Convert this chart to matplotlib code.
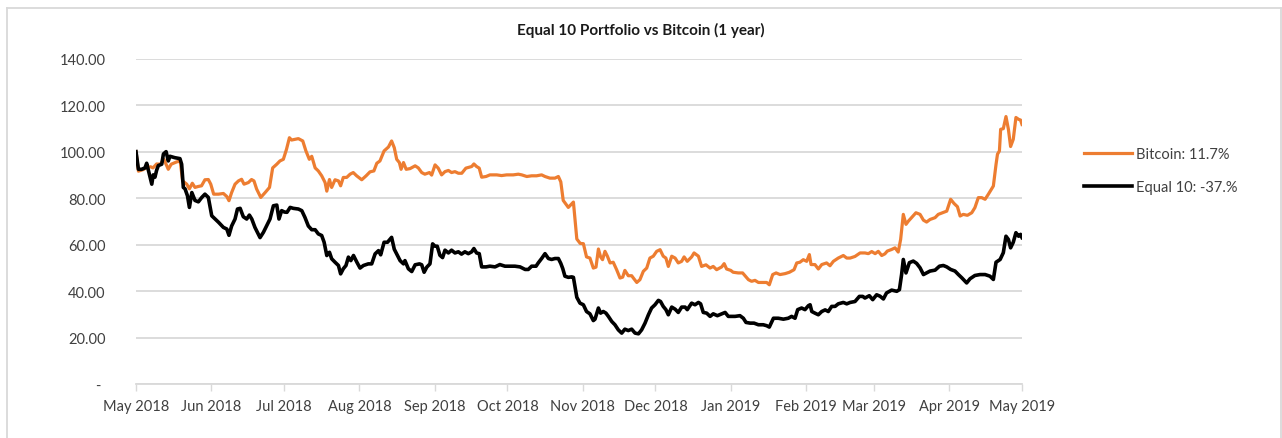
import numpy as np
import pandas as pd
import matplotlib
matplotlib.use('Agg')
import matplotlib.pyplot as plt
import matplotlib.dates as mdates
from matplotlib.ticker import FuncFormatter
from matplotlib.lines import Line2D

plt.rcParams['font.family'] = ['Lato', 'DejaVu Sans']

start = pd.Timestamp('2018-05-01')

# Bitcoin (indexed to 100), days since 1 May 2018
btc_day = [0, 1, 3, 4, 6, 7, 8.5, 10, 11.5, 13.3, 14.5, 16.8, 18.2, 19.2, 20.9, 22, 23.2, 24.3,
           25.6, 27, 28.4, 29.8, 30.8, 32, 34, 36, 37.4, 38.3, 39.4, 40.8, 42.2, 43.5, 44.5,
           46.3, 47.6, 48.6, 49.7, 51.4, 53.2, 55, 56.3, 58, 59.3, 60.7, 62, 63.2, 64.1, 65.5,
           66.9, 68.7, 70, 71.4, 72.4, 73.8, 75.1, 76.5, 77.9, 78.6, 79.7, 80.6, 82, 83.4, 84.3,
           85.4, 86.8, 88.2, 89.5, 90.9, 93, 94.8, 96.4, 98, 99.2, 100.5, 102.2, 104, 105.3,
           106.4, 107.4, 108.5, 109.2, 110.2, 111.3, 112.9, 115, 116.3, 117.7, 119, 120.9, 121.8,
           123.2, 124.5, 125.9, 127.3, 128.7, 130, 131.4, 132.8, 134.2, 135.9, 137.3, 138.3,
           139.2, 140.3, 141.4, 142.4, 144.2, 145.8, 148.6, 150.6, 152.7, 155.4, 157.5, 158.9,
           161, 163, 165, 167.1, 168.5, 170.5, 172.6, 174, 175, 176, 178.1, 180.2, 181.6, 183,
           184.3, 185.6, 187, 188.4, 189.5, 190.5, 191.4, 192.2, 193.2, 194.2, 195.3, 196.6, 198,
           199.4, 200.5, 201.4, 202.8, 204.2, 204.9, 206.3, 207.6, 209, 210.4, 211.7, 213.1,
           214.5, 215.9, 217.2, 218.3, 219.3, 220.7, 222.1, 223.4, 224.8, 225.8, 227.1, 228.9,
           229.9, 231.7, 233, 234.8, 236.5, 237.8, 239.2, 241.3, 242.3, 243.3, 245, 246, 248.1,
           249.9, 250.9, 252.3, 253.6, 255, 256.4, 258.4, 259.8, 260.9, 262.3, 263.7, 265.3,
           267.4, 269.2, 271.1, 272.2, 273.5, 274.9, 276.3, 277.4, 278.1, 279.7, 281.1, 282.5,
           284.5, 285.9, 287.3, 289.3, 291.4, 292.8, 294.2, 296.2, 298.3, 300.3, 301.7, 303.1,
           304.5, 305.8, 307.2, 308.5, 309.5, 311.3, 312.7, 314, 315, 316.1, 317.2, 318.2, 319.5,
           321.3, 323, 324.4, 325.7, 327.1, 329.2, 330.5, 332.3, 334, 335.6, 337, 338.4, 339.5,
           340.8, 342.5, 344.3, 345.6, 347, 348.4, 349.8, 351.1, 353.2, 354.3, 354.9, 355.7,
           356.2, 357.3, 358.4, 359.4, 360.3, 361.4, 362.5, 363.6, 364.4, 365]
btc_val = [100, 91.6, 92.3, 93, 93.5, 93, 94.7, 94.6, 96.7, 92.4, 94.6, 95.6, 96, 87.4, 86, 84,
           86.4, 84.6, 85, 85.3, 87.9, 88, 86, 81.7, 81.7, 82, 80.7, 78.9, 82.4, 86, 87.4, 88.1,
           86, 86.7, 88, 87.4, 83.9, 80.3, 82.4, 84.6, 93, 94.6, 96, 96.7, 101, 106, 105, 105.3,
           105.6, 104.6, 100.3, 96.7, 98, 93, 91.7, 89.6, 86.7, 83, 88, 84.6, 87.9, 87.4, 85.3,
           88.9, 88.9, 90.3, 91, 89.6, 87.9, 89.6, 91.3, 91.7, 95, 96, 100.3, 102, 104.6, 101.7,
           96.7, 95.3, 92.4, 95.3, 92.4, 92.7, 93.9, 93, 91, 90.3, 91, 89.9, 94.3, 92.9, 90, 91.4,
           91.9, 91, 91.4, 90.7, 90.7, 92.9, 93.3, 93.6, 94.7, 93.6, 92.9, 89, 89.3, 90, 90, 89.7,
           90, 90, 90.3, 90, 89.3, 89.6, 89.6, 90, 89.3, 88.6, 88.6, 89.3, 87, 79, 76, 78.3,
           62.4, 60.5, 60.4, 54.7, 54.2, 49.9, 50.3, 58.1, 54.7, 53.5, 57.1, 55, 52.1, 52.4, 49.2,
           45.6, 46, 48.9, 46.6, 46.6, 45.6, 43.7, 44.9, 48.5, 49.9, 54.2, 55, 57.1, 57.8, 55,
           54.2, 50.6, 55, 54.2, 52.1, 52.8, 54.7, 52.8, 54.7, 56.4, 55, 50.6, 51.3, 49.9, 50.6,
           49.2, 50.4, 51.8, 49.5, 48.9, 48.1, 47.8, 47.8, 46.6, 44.9, 44.2, 44.6, 43.7, 43.7,
           43.7, 42.7, 47.1, 47.8, 47.1, 47.5, 48.1, 49.2, 52.1, 52.4, 53.5, 52.8, 55.7, 51.4,
           51.4, 49.5, 51.4, 52.1, 50.9, 52.8, 54.2, 55.3, 54.2, 54.2, 54.9, 56.4, 56.4, 56.1, 57,
           56.1, 57.1, 55.3, 56, 57.2, 57.9, 58.6, 56.8, 62.2, 73, 68.7, 70.1, 71.6, 73.7, 73,
           70.5, 69.7, 70.8, 71.6, 73, 73.7, 74.4, 79.5, 77.7, 76.3, 72.3, 73, 72.6, 73.7, 75.9,
           80.2, 80.2, 79.5, 81.6, 85.2, 94.5, 98.9, 100.3, 109.6, 109.9, 115.1, 109.6, 102.2,
           105.3, 114.7, 113.9, 113.6, 111.7]

# Equal 10 portfolio (indexed to 100)
eq_day = [0, 1, 2.3, 3.7, 4.4, 5.1, 6.5, 7.1, 7.8, 8.5, 9.2, 10.6, 11.3, 12.4, 13.3, 14, 16, 18.1,
          18.8, 19.5, 20.2, 21.2, 22, 23, 24.3, 25.7, 27.1, 28.4, 29.8, 31.2, 32.6, 34, 36, 37.4,
          38.3, 39.4, 40.8, 41.8, 42.9, 44.2, 45.6, 46.7, 47.7, 49, 51.1, 52.5, 53.8, 55.2, 56.6,
          58, 58.9, 60, 61.2, 62.2, 63.5, 64.8, 66.9, 68.3, 69.6, 71, 72.4, 73.8, 75.1, 76.5,
          77.5, 78.6, 79.7, 80.6, 82, 83.4, 84.3, 85.4, 86.5, 87.5, 88.5, 89.6, 91, 92.3, 93.7,
          95.7, 97.1, 98.5, 99.9, 100.8, 102.2, 103.6, 105.3, 106.4, 107.7, 108.8, 110.2, 110.8,
          112.2, 113.6, 115, 116.8, 117.7, 118.7, 119.8, 121.1, 122.2, 123.2, 124.1, 125.2,
          126.3, 127.3, 128.7, 130, 131.4, 132.8, 134.1, 135.5, 136.9, 138.3, 139.2, 140.3,
          141.4, 142.4, 144.2, 145.8, 147.9, 149.9, 152, 154.1, 156.1, 158.2, 160.3, 161.6, 163,
          164.8, 165.7, 167.1, 168.5, 169.9, 171.2, 172.6, 174, 175, 175.8, 176.7, 178.1, 179.5,
          180.2, 181.6, 182.9, 184.3, 185.6, 187, 188.4, 189.1, 190.5, 191.4, 192.5, 193.6,
          194.6, 196, 197.3, 198.7, 200.1, 201.4, 202.8, 204.2, 205.6, 207, 208.3, 209.7, 211.1,
          212.4, 213.8, 215.2, 216.1, 217.2, 218.3, 219.3, 220.7, 222.1, 223.4, 224.8, 226.2,
          227.1, 228.9, 230.3, 231.7, 232.6, 233.7, 235.1, 236.5, 237.8, 239.5, 241.3, 242.7,
          244, 246.8, 248.8, 250.2, 251.3, 253, 254.6, 256.4, 258.4, 259.8, 260.9, 262.6, 264.6,
          266.7, 268.7, 270.1, 271.5, 272.6, 274.2, 275.6, 277, 277.7, 278.4, 279.7, 281.1,
          282.5, 283.9, 285.2, 286.6, 288, 289.3, 291.4, 292.8, 294.2, 296.2, 298, 299.4, 300.3,
          302.1, 303.5, 305.1, 306.5, 307.9, 309.2, 311.3, 313.4, 314.5, 315.4, 316.1, 317.2,
          318.6, 320.2, 321.6, 323, 324.4, 325.7, 327.1, 329.2, 331, 332.6, 334, 335.6, 337.4,
          338.8, 340.2, 342.2, 343.6, 345.6, 347.7, 349.8, 351.8, 353.2, 354.3, 356, 357.3,
          358.4, 359.4, 360.3, 361.4, 362.5, 363.6, 364.4, 365]
eq_val = [100, 92.4, 92.4, 93, 95, 92, 86, 90, 89, 92, 94, 94.6, 99, 100, 96, 98, 97.4, 97, 94.6,
          84.6, 84, 81, 76, 82.4, 79, 78.4, 80.3, 81.7, 80.3, 72.4, 71, 69.6, 67.4, 66.7, 64, 68,
          71, 75.3, 75.6, 72, 71, 72.7, 71, 67.4, 63, 65.3, 68, 71, 76.7, 77, 71, 74.6, 74, 73.9,
          76, 75.6, 75.3, 74.6, 71.7, 68, 66.4, 66.4, 64.6, 63.9, 61, 55.3, 56.7, 53.9, 52.4, 51,
          47.4, 49.6, 51, 54.6, 53.1, 55.3, 52.4, 49.9, 51, 51.7, 51.7, 56, 57.4, 55.6, 61, 61,
          63.1, 58, 55.3, 53.1, 51.7, 53.1, 49.6, 48.4, 51.3, 51.7, 51.3, 48.1, 50.3, 51.7, 60.3,
          59.3, 59.3, 55.4, 54.4, 57.6, 56.4, 57.6, 56.4, 56.9, 55.9, 56.9, 56.1, 56.9, 58.3,
          56.4, 56.1, 50.4, 50.4, 50.7, 50.4, 51.4, 50.7, 50.7, 50.7, 50.4, 49.3, 49.3, 50.7,
          50.7, 52.1, 54, 56.1, 54, 53.6, 54, 54, 51.9, 49.7, 46.4, 45.9, 46.1, 45.9, 37.3, 34.8,
          34.1, 31.2, 30.2, 27.3, 27.9, 32.7, 30.5, 31.2, 30.5, 29.1, 26.9, 25.5, 23.3, 21.9,
          23.6, 23, 23.6, 21.9, 21.6, 23.3, 26.2, 29.8, 32.7, 34.1, 36, 35.5, 33.4, 32, 29.8,
          33.1, 32.2, 30.8, 33.1, 33.1, 32, 34.8, 34.1, 35.1, 34.5, 30.8, 30.5, 29.1, 30.2, 29.4,
          30.2, 30.8, 29.1, 29.1, 29.4, 28.3, 26.5, 26.2, 26.2, 25.5, 25.5, 25.1, 24.5, 28.3,
          28.3, 27.9, 28.3, 29.1, 28.3, 32, 32.7, 32, 33.7, 34.1, 31.2, 30.5, 29.8, 31.2, 31.9,
          31.2, 33.4, 33.4, 34.5, 35.1, 34.5, 35.1, 35.5, 37.7, 37.7, 37, 38, 36.3, 38.4, 37.8,
          36.6, 39.2, 40.4, 39.9, 40.6, 47.1, 53.6, 47.8, 52.2, 52.9, 51.9, 50, 47.1, 47.8, 48.6,
          49, 50.7, 51, 50.4, 49.3, 48.6, 47.1, 45.7, 43.5, 45.3, 46.7, 47.1, 47.1, 46.4, 45,
          52.4, 53.6, 56.5, 63.6, 62.2, 58.6, 61, 65.1, 63.6, 64.4, 63]

btc_dates = start + pd.to_timedelta(btc_day, unit='D')
eq_dates = start + pd.to_timedelta(eq_day, unit='D')

fig = plt.figure(figsize=(12.82, 4.39), dpi=100)

# chart-area frame (left, top, right edges visible)
W, H = 1282, 439
frame = [([7 / W, 7 / W], [0, 1 - 9 / H]),
         ([7 / W, 1280.5 / W], [1 - 9 / H, 1 - 9 / H]),
         ([1280.5 / W, 1280.5 / W], [0, 1 - 9 / H])]
for fx, fy in frame:
    fig.add_artist(Line2D(fx, fy, transform=fig.transFigure, color='#d9d9d9', linewidth=1.3))

ax = fig.add_axes([136 / W, 54 / H, 886 / W, 325.3 / H])

ax.plot(btc_dates, btc_val, color='#ED7D31', linewidth=2.3, label='Bitcoin: 11.7%',
        solid_joinstyle='round')
ax.plot(eq_dates, eq_val, color='black', linewidth=2.6, label='Equal 10: -37.%',
        solid_joinstyle='round')

ax.set_ylim(0, 140)
ax.set_xlim(start, pd.Timestamp('2019-05-01'))
ax.set_yticks(np.arange(0, 141, 20))
ax.yaxis.set_major_formatter(FuncFormatter(lambda v, p: '- ' if v == 0 else f'{v:.2f}'))
ax.xaxis.set_major_locator(mdates.MonthLocator())
ax.xaxis.set_major_formatter(mdates.DateFormatter('%b %Y'))

ax.grid(axis='y', color='#d9d9d9', linewidth=1.3)
ax.set_axisbelow(True)
for s in ['top', 'right', 'left']:
    ax.spines[s].set_visible(False)
ax.spines['bottom'].set_color('#d9d9d9')
ax.spines['bottom'].set_linewidth(1.3)
ax.tick_params(axis='y', length=0, pad=22, labelsize=10.5, labelcolor='#404040')
ax.tick_params(axis='x', length=5, width=1, color='#d9d9d9', labelsize=10.5,
               labelcolor='#404040', pad=6)

fig.text(0.5, 0.93, 'Equal 10 Portfolio vs Bitcoin (1 year)', ha='center', va='center',
         fontsize=11, fontweight='bold', color='#1a1a1a')

ax.legend(loc='upper left', bbox_to_anchor=(1.055, 0.77), frameon=False, fontsize=10.5,
          handlelength=3.3, handletextpad=0.3, labelspacing=1.35, labelcolor='#404040')

fig.savefig('out.png', dpi=100)
